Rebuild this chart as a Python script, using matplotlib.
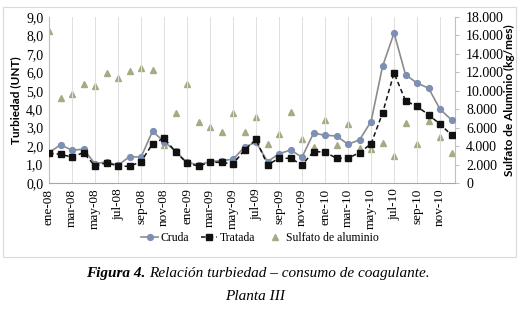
import numpy as np
import matplotlib
matplotlib.use("Agg")
import matplotlib.pyplot as plt
from matplotlib.lines import Line2D
from matplotlib.patches import Rectangle

months = ["ene", "feb", "mar", "abr", "may", "jun", "jul", "ago", "sep", "oct", "nov", "dic"]
years = ["08", "09", "10"]
categories = [f"{m}-{y}" for y in years for m in months]

cruda = [1.65, 2.07, 1.78, 1.83, 1.05, 1.14, 0.96, 1.43, 1.40, 2.80, 2.25, 1.72,
         1.12, 0.98, 1.16, 1.21, 1.29, 1.94, 2.22, 1.16, 1.58, 1.79, 1.40, 2.70,
         2.59, 2.55, 2.10, 2.34, 3.33, 6.32, 8.13, 5.87, 5.42, 5.14, 4.00, 3.42]
tratada = [1.61, 1.56, 1.40, 1.65, 0.92, 1.10, 0.92, 0.90, 1.16, 2.12, 2.43, 1.70,
           1.07, 0.92, 1.12, 1.12, 1.03, 1.79, 2.36, 0.98, 1.34, 1.34, 0.98, 1.70,
           1.68, 1.34, 1.34, 1.65, 2.12, 3.79, 5.96, 4.46, 4.15, 3.70, 3.19, 2.60]
sulfato = [16450, 9200, 9670, 10760, 10470, 11920, 11340, 12100, 12470, 12280, 4130, 7640,
           10760, 6600, 6120, 5580, 7570, 5510, 7210, 4240, 5290, 7680, 4750, 3950,
           6850, 4130, 6410, 3770, 3660, 4310, 2930, 6490, 4240, 6770, 5030, 3290]

left_ticks = [0, 1, 2, 3, 4, 5, 6, 7, 8, 9]
right_ticks = [0, 2000, 4000, 6000, 8000, 10000, 12000, 14000, 16000, 18000]

serif = "Liberation Serif"
fig = plt.figure(figsize=(5.22, 3.16), dpi=100)
W, H = 522, 316

# chart border
fig.patches.append(Rectangle((3 / W, 1 - 257 / H), 513 / W, 250 / H, transform=fig.transFigure,
                             fill=False, edgecolor="#d9d9d9", lw=0.8))

ax = fig.add_axes([49 / W, 1 - 183 / H, (455 - 49) / W, (183 - 17) / H])
ax2 = ax.twinx()
ax.set_zorder(ax2.get_zorder() + 1)
ax.patch.set_visible(False)

x = np.arange(len(categories))
c_marker = "#7d8fb3"
c_line = "#8c8c8c"
tri_c = "#a6ab84"

ax2.plot(x, sulfato, linestyle="none", marker="^", markersize=5, color=tri_c, zorder=2)
ax.plot(x, cruda, color=c_line, lw=1.2, marker="o", markersize=4.2, markerfacecolor=c_marker,
        markeredgecolor=c_marker, zorder=4)
ax.plot(x, tratada, color="#111111", lw=1.1, linestyle=(0, (3, 2)), marker="s", markersize=4.2,
        markerfacecolor="#111111", markeredgecolor="#111111", zorder=5)

ax.set_xlim(0, 35.3)
ax.set_ylim(0, 9)
ax2.set_ylim(0, 18000)
ax.set_yticks(left_ticks)
ax.set_yticklabels([f"{v:.1f}".replace(".", ",") for v in left_ticks], fontfamily=serif, fontsize=10)
ax2.set_yticks(right_ticks)
ax2.set_yticklabels(["0" if v == 0 else f"{v:,}".replace(",", ".") for v in right_ticks],
                    fontfamily=serif, fontsize=10)

ax.set_xticks(x[::2])
ax.set_xticklabels(categories[::2], rotation=90, fontfamily=serif, fontsize=9.5)
ax.xaxis.grid(True, color="#dedede", lw=0.7)
ax.set_axisbelow(True)

ax.tick_params(axis="x", length=0, pad=4)
ax.tick_params(axis="y", length=0, pad=4)
ax2.tick_params(axis="y", length=3, color="#bfbfbf", pad=5)

for a in (ax, ax2):
    a.spines["top"].set_visible(False)
ax.spines["left"].set_color("#bfbfbf")
ax.spines["bottom"].set_color("#a6a6a6")
ax.spines["right"].set_visible(False)
ax2.spines["left"].set_visible(False)
ax2.spines["bottom"].set_visible(False)
ax2.spines["right"].set_color("#bfbfbf")

lab_font = dict(family=["Lato", "DejaVu Sans"], fontweight="bold", fontsize=8.5)
fig.text(16 / W, 1 - 100 / H, "Turbiedad (UNT)", rotation=90, ha="center", va="center", **lab_font)
fig.text(509 / W, 1 - 100 / H, "Sulfato de Aluminio (kg/mes)", rotation=90, ha="center", va="center",
         **lab_font)

handles = [
    Line2D([], [], color=c_line, lw=1.2, marker="o", markersize=4.2, markerfacecolor=c_marker,
           markeredgecolor=c_marker),
    Line2D([], [], color="#111111", lw=1.1, linestyle=(0, (3, 2)), marker="s", markersize=4.2),
    Line2D([], [], linestyle="none", marker="^", markersize=5, color=tri_c),
]
fig.legend(handles, ["Cruda", "Tratada", "Sulfato de aluminio"], loc="center",
           bbox_to_anchor=(260 / W, 1 - 238 / H), ncol=3, frameon=False,
           prop=dict(family=serif, size=8.5), handlelength=1.4, handletextpad=0.2, columnspacing=1.0)

# caption
fig.canvas.draw()
r = fig.canvas.get_renderer()
t1 = fig.text(86 / W, 1 - 274 / H, "Figura 4.", fontfamily=serif, fontstyle="italic",
              fontweight="bold", fontsize=11, va="center", ha="left")
bb = t1.get_window_extent(r)
fig.text(bb.x1 / W + 4 / W, 1 - 274 / H, "Relación turbiedad – consumo de coagulante.",
         fontfamily=serif, fontstyle="italic", fontsize=11, va="center", ha="left")
fig.text(255 / W, 1 - 296 / H, "Planta III", fontfamily=serif, fontstyle="italic", fontsize=11,
         va="center", ha="center")

fig.savefig("out.png", dpi=100)
